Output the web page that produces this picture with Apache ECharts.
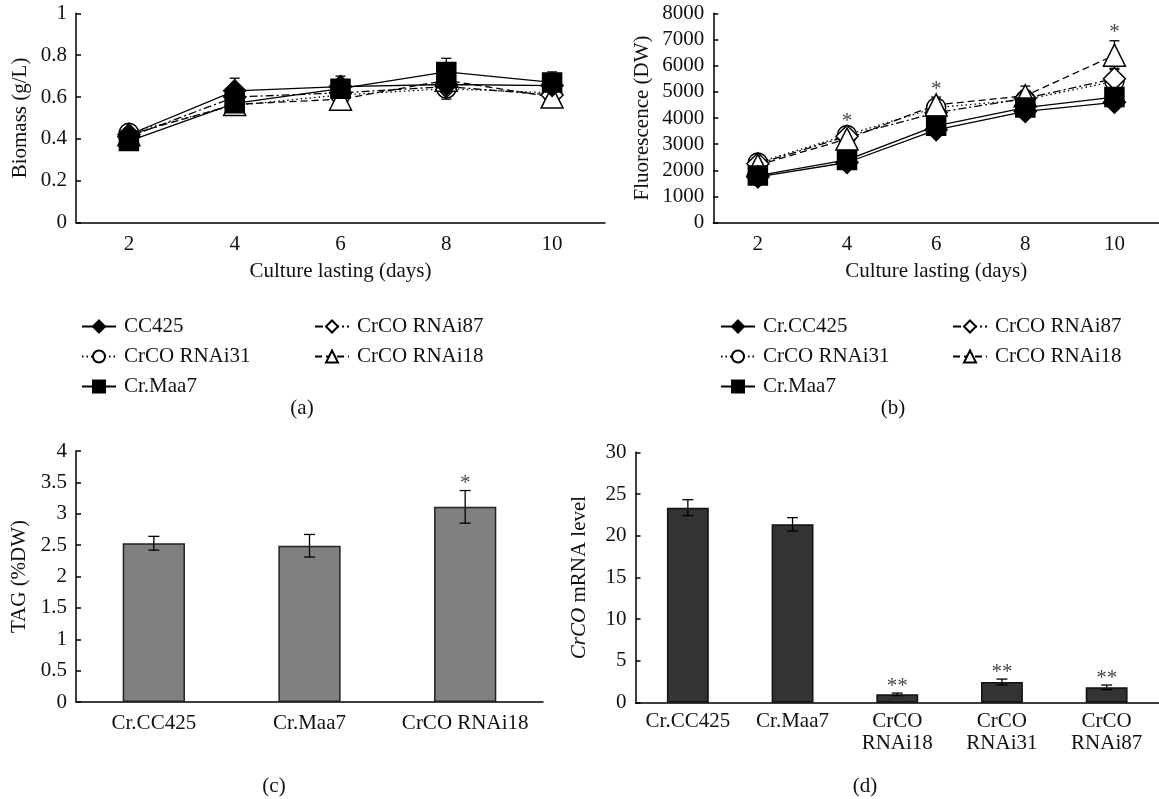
<!DOCTYPE html>
<html>
<head>
<meta charset="utf-8">
<script src="https://cdn.jsdelivr.net/npm/echarts@6/dist/echarts.min.js"></script>
<style>html,body{margin:0;padding:0;background:#fff}#c{width:1159px;height:799px}</style>
</head>
<body>
<div id="c"></div>
<script>
// ---------- data ----------
const days = ['2', '4', '6', '8', '10'];

// (a) Biomass (g/L)
const bioCC425  = [0.42, 0.63, 0.65, 0.66, 0.655];
const bioRNAi31 = [0.43, 0.56, 0.61, 0.64, 0.62];
const bioMaa7   = [0.39, 0.57, 0.64, 0.72, 0.67];
const bioRNAi87 = [0.41, 0.60, 0.62, 0.65, 0.61];
const bioRNAi18 = [0.42, 0.565, 0.59, 0.68, 0.60];
const bioErrCC425  = [0.02, 0.06, 0.05, 0.03, 0.03];
const bioErrRNAi31 = [0.03, 0.04, 0.03, 0.05, 0.03];
const bioErrMaa7   = [0.02, 0.05, 0.04, 0.065, 0.05];
const bioErrRNAi87 = [0.02, 0.04, 0.03, 0.04, 0.03];
const bioErrRNAi18 = [0.02, 0.04, 0.03, 0.04, 0.04];

// (b) Fluorescence (DW)
const flCC425  = [1750, 2300, 3550, 4250, 4600];
const flRNAi31 = [2300, 3350, 4400, 4700, 5400];
const flMaa7   = [1800, 2400, 3700, 4400, 4800];
const flRNAi87 = [2250, 3300, 4200, 4750, 5500];
const flRNAi18 = [2200, 3200, 4500, 4850, 6400];
const flErrCC425  = [150, 150, 200, 200, 200];
const flErrRNAi31 = [150, 200, 250, 250, 300];
const flErrMaa7   = [150, 200, 200, 200, 250];
const flErrRNAi87 = [150, 200, 250, 300, 400];
const flErrRNAi18 = [150, 200, 300, 370, 550];
const flStarDays = [1, 2, 4];

// (c) TAG (%DW)
const tagCats = ['Cr.CC425', 'Cr.Maa7', 'CrCO RNAi18'];
const tagVals = [2.53, 2.49, 3.11];
const tagErr  = [0.11, 0.18, 0.26];
const tagStars = ['', '', '*'];

// (d) CrCO mRNA level
const mrnaCats = ['Cr.CC425', 'Cr.Maa7', 'CrCO\nRNAi18', 'CrCO\nRNAi31', 'CrCO\nRNAi87'];
const mrnaVals = [23.37, 21.37, 1.0, 2.48, 1.84];
const mrnaErr  = [0.95, 0.8, 0.15, 0.35, 0.28];
const mrnaStars = ['', '', '**', '**', '**'];

// ---------- styles ----------
const F = 'Liberation Serif';
const FS = 21;
const INK = '#111';

const styles = {
  CC425:  {symbol: 'diamond', size: 22, fill: '#000', line: 'solid'},
  RNAi31: {symbol: 'circle', size: 19, fill: '#fff', line: [1.5, 3]},
  Maa7:   {symbol: 'rect', size: 19, fill: '#000', line: 'solid'},
  RNAi87: {symbol: 'diamond', size: 22, fill: '#fff', line: [8, 3, 2, 3]},
  RNAi18: {symbol: 'triangle', size: 22, fill: '#fff', line: [7, 4]}
};

function lineSeries(name, key, vals, gi) {
  const s = styles[key];
  return {
    type: 'line', name, xAxisIndex: gi, yAxisIndex: gi, data: vals,
    symbol: s.symbol, symbolSize: s.size, z: 3,
    lineStyle: {color: '#000', width: 1.3, type: s.line},
    itemStyle: {color: s.fill, borderColor: '#000', borderWidth: 1.5},
    emphasis: {disabled: true}, animation: false
  };
}

function errSeries(vals, errs, gi, cap, z) {
  return {
    type: 'custom', xAxisIndex: gi, yAxisIndex: gi, z: z, animation: false, silent: true,
    data: vals.map((v, i) => [i, v - errs[i], v + errs[i]]),
    renderItem: function (params, api) {
      const x = api.value(0);
      const lo = api.coord([x, api.value(1)]);
      const hi = api.coord([x, api.value(2)]);
      const st = {stroke: '#000', lineWidth: 1.3};
      return {type: 'group', children: [
        {type: 'line', shape: {x1: lo[0], y1: lo[1], x2: hi[0], y2: hi[1]}, style: st},
        {type: 'line', shape: {x1: hi[0] - cap, y1: hi[1], x2: hi[0] + cap, y2: hi[1]}, style: st},
        {type: 'line', shape: {x1: lo[0] - cap, y1: lo[1], x2: lo[0] + cap, y2: lo[1]}, style: st}
      ]};
    }
  };
}

function starSeries(points, gi, dist) {
  return {
    type: 'scatter', xAxisIndex: gi, yAxisIndex: gi, symbolSize: 1, z: 6,
    itemStyle: {color: 'rgba(0,0,0,0)'}, animation: false, silent: true,
    data: points.map(p => ({value: [p[0], p[1]], label: {formatter: p[2]}})),
    label: {show: true, position: 'top', distance: dist, color: INK, fontFamily: F, fontSize: FS}
  };
}

function catAxis(gi, data, extra) {
  return Object.assign({
    type: 'category', gridIndex: gi, data, boundaryGap: true,
    axisLine: {lineStyle: {color: '#000', width: 1.5}},
    axisTick: {inside: true, length: 6, alignWithLabel: false, lineStyle: {color: '#000', width: 1.5}},
    axisLabel: {color: INK, fontFamily: F, fontSize: FS, margin: 11, interval: 0},
    splitLine: {show: false}
  }, extra || {});
}

function valAxis(gi, min, max, interval, name, nameGap, rich) {
  const ax = {
    type: 'value', gridIndex: gi, min, max, interval,
    axisLine: {show: true, lineStyle: {color: '#000', width: 1.5}},
    axisTick: {show: true, inside: true, length: 5, lineStyle: {color: '#000', width: 1.5}},
    axisLabel: {color: INK, fontFamily: F, fontSize: FS, margin: 9, formatter: v => String(v)},
    splitLine: {show: false},
    name, nameLocation: 'middle', nameGap,
    nameTextStyle: {color: INK, fontFamily: F, fontSize: FS}
  };
  if (rich) ax.nameTextStyle.rich = rich;
  return ax;
}

function maxTop(arrs, errs, i) {
  let m = -Infinity;
  arrs.forEach((a, k) => { m = Math.max(m, a[i] + errs[k][i]); });
  return m;
}

const flAll = [flCC425, flRNAi31, flMaa7, flRNAi87, flRNAi18];
const flErrAll = [flErrCC425, flErrRNAi31, flErrMaa7, flErrRNAi87, flErrRNAi18];
const flStars = flStarDays.map(i => [i, maxTop(flAll, flErrAll, i), '*']);
const tagStarPts = tagStars.map((s, i) => [i, tagVals[i] + tagErr[i], s]).filter(p => p[2]);
const mrnaStarPts = mrnaStars.map((s, i) => [i, mrnaVals[i] + mrnaErr[i], s]).filter(p => p[2]);

const legendBase = {
  orient: 'vertical', itemWidth: 34, itemHeight: 15, itemGap: 9, selectedMode: false,
  textStyle: {color: INK, fontFamily: F, fontSize: FS, padding: [0, 0, 0, 3]}
};

const option = {
  backgroundColor: '#fff',
  animation: false,
  grid: [
    {left: 76, top: 13.3, width: 529, height: 209.4},
    {left: 713.3, top: 13.3, width: 450, height: 209.4},
    {left: 76, top: 451, width: 467, height: 251},
    {left: 635.5, top: 452.3, width: 530, height: 250.4}
  ],
  xAxis: [
    catAxis(0, days, {name: 'Culture lasting (days)', nameLocation: 'middle', nameGap: 38,
      nameTextStyle: {color: INK, fontFamily: F, fontSize: FS}}),
    catAxis(1, days, {name: 'Culture lasting (days)', nameLocation: 'middle', nameGap: 38,
      nameTextStyle: {color: INK, fontFamily: F, fontSize: FS}}),
    catAxis(2, tagCats),
    catAxis(3, mrnaCats, {axisLabel: {color: INK, fontFamily: F, fontSize: FS, margin: 8, lineHeight: 22, interval: 0}})
  ],
  yAxis: [
    valAxis(0, 0, 1, 0.2, 'Biomass (g/L)', 45),
    valAxis(1, 0, 8000, 1000, 'Fluorescence (DW)', 60),
    valAxis(2, 0, 4, 0.5, 'TAG (%DW)', 46),
    valAxis(3, 0, 30, 5, '{i|CrCO} mRNA level', 46, {i: {fontStyle: 'italic', fontFamily: F, fontSize: FS, color: INK}})
  ],
  legend: [
    Object.assign({}, legendBase, {data: ['CC425', 'CrCO RNAi31', 'Cr.Maa7'], left: 76, top: 311}),
    Object.assign({}, legendBase, {data: ['CrCO RNAi87', 'CrCO RNAi18'], left: 309, top: 311}),
    Object.assign({}, legendBase, {data: ['Cr.CC425', 'CrCO RNAi31', 'Cr.Maa7'], left: 715, top: 311}),
    Object.assign({}, legendBase, {data: ['CrCO RNAi87', 'CrCO RNAi18'], left: 947, top: 311})
  ],
  title: [
    {text: '(a)', left: 302, top: 398, textAlign: 'center'},
    {text: '(b)', left: 893, top: 398, textAlign: 'center'},
    {text: '(c)', left: 274, top: 776, textAlign: 'center'},
    {text: '(d)', left: 865, top: 776, textAlign: 'center'}
  ].map(t => Object.assign(t, {padding: 0, textStyle: {color: INK, fontFamily: F, fontSize: FS, fontWeight: 'normal'}})),
  series: [
    // (a) error bars
    errSeries(bioRNAi31, bioErrRNAi31, 0, 5, 1),
    errSeries(bioRNAi87, bioErrRNAi87, 0, 5, 1),
    errSeries(bioRNAi18, bioErrRNAi18, 0, 5, 1),
    errSeries(bioCC425, bioErrCC425, 0, 5, 1),
    errSeries(bioMaa7, bioErrMaa7, 0, 5, 1),
    // (a) lines
    lineSeries('CrCO RNAi31', 'RNAi31', bioRNAi31, 0),
    lineSeries('CrCO RNAi87', 'RNAi87', bioRNAi87, 0),
    lineSeries('CrCO RNAi18', 'RNAi18', bioRNAi18, 0),
    lineSeries('CC425', 'CC425', bioCC425, 0),
    lineSeries('Cr.Maa7', 'Maa7', bioMaa7, 0),
    // (b) error bars
    errSeries(flRNAi31, flErrRNAi31, 1, 5, 1),
    errSeries(flRNAi87, flErrRNAi87, 1, 5, 1),
    errSeries(flRNAi18, flErrRNAi18, 1, 5, 1),
    errSeries(flCC425, flErrCC425, 1, 5, 1),
    errSeries(flMaa7, flErrMaa7, 1, 5, 1),
    // (b) lines
    lineSeries('CrCO RNAi31', 'RNAi31', flRNAi31, 1),
    lineSeries('CrCO RNAi87', 'RNAi87', flRNAi87, 1),
    lineSeries('CrCO RNAi18', 'RNAi18', flRNAi18, 1),
    lineSeries('Cr.CC425', 'CC425', flCC425, 1),
    lineSeries('Cr.Maa7', 'Maa7', flMaa7, 1),
    starSeries(flStars, 1, -3),
    // (c) bars
    {type: 'bar', xAxisIndex: 2, yAxisIndex: 2, data: tagVals, barWidth: '40%', z: 2,
      itemStyle: {color: '#808080', borderColor: '#222', borderWidth: 1.5}, animation: false, silent: true},
    errSeries(tagVals, tagErr, 2, 5.5, 4),
    starSeries(tagStarPts, 2, -4),
    // (d) bars
    {type: 'bar', xAxisIndex: 3, yAxisIndex: 3, data: mrnaVals, barWidth: '40%', z: 2,
      itemStyle: {color: '#333333', borderColor: '#111', borderWidth: 1.5}, animation: false, silent: true},
    errSeries(mrnaVals, mrnaErr, 3, 5.5, 4),
    starSeries(mrnaStarPts, 3, -4)
  ]
};

const chart = echarts.init(document.getElementById('c'), null, {renderer: 'canvas'});
chart.setOption(option);
</script>
</body>
</html>
